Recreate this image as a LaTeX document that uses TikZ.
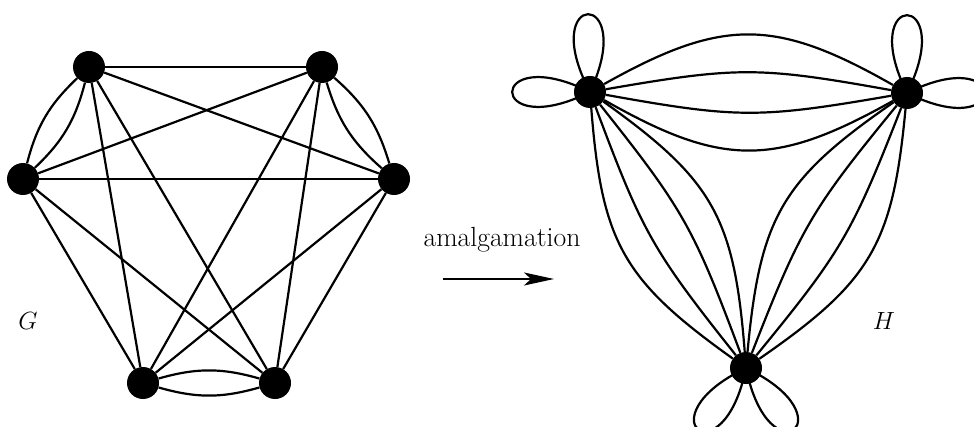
\documentclass[tikz,border=0pt]{standalone}
\usetikzlibrary{arrows.meta,backgrounds}
\begin{document}
\begin{tikzpicture}[x=1pt,y=1pt,
  vertex/.style={circle,fill=black,inner sep=0pt,minimum size=32pt},
  edge/.style={line width=2.2pt},
  big/.style={font=\fontsize{27.7}{33}\selectfont}]
\useasboundingbox (0,0) rectangle (974,426);
\clip (0,0) rectangle (974,426);

% ---- graph G ----
\node[vertex] (a) at (89,359) {};
\node[vertex] (b) at (322,359) {};
\node[vertex] (c) at (23,247) {};
\node[vertex] (d) at (394,247) {};
\node[vertex] (e) at (143,43) {};
\node[vertex] (f) at (275,43) {};

% ---- graph H ----
\node[vertex] (P) at (590,334) {};
\node[vertex] (Q) at (907,333) {};
\node[vertex] (R) at (746,58) {};

% ---- labels and arrow ----
\node[big,anchor=base] (G) at (28,97) {$G$};
\node[big,anchor=base] (H) at (884,97) {$H$};
\node[big,anchor=base] (amal) at (502,179) {amalgamation};
\coordinate (arrS) at (443,147);
\coordinate (arrE) at (554,147);
\draw[line width=2pt,-{Stealth[length=30pt,width=13pt,inset=7pt]}] (arrS) -- (arrE);

\begin{pgfonlayer}{background}
\begin{scope}[edge]
  % edges of G
  \draw (a) -- (b);
  \draw (a) to[bend left=16] (c);
  \draw (a) to[bend right=16] (c);
  \draw (a) -- (d);
  \draw (a) -- (e);
  \draw (a) -- (f);
  \draw (b) -- (c);
  \draw (b) to[bend left=16] (d);
  \draw (b) to[bend right=16] (d);
  \draw (b) -- (e);
  \draw (b) -- (f);
  \draw (c) -- (d);
  \draw (c) -- (e);
  \draw (c) -- (f);
  \draw (d) -- (e);
  \draw (d) -- (f);
  \draw (e) to[bend left=16] (f);
  \draw (e) to[bend right=16] (f);

  % parallel edges of H
  \draw (P) to[bend left=29.5,looseness=1.2] (Q);
  \draw (P) to[bend left=10,looseness=1.2] (Q);
  \draw (P) to[bend right=10,looseness=1.2] (Q);
  \draw (P) to[bend right=29.5,looseness=1.2] (Q);

  \draw (P) to[bend left=25,looseness=1.2] (R);
  \draw (P) to[bend left=9,looseness=1.2] (R);
  \draw (P) to[bend right=9,looseness=1.2] (R);
  \draw (P) to[bend right=25,looseness=1.2] (R);

  \draw (Q) to[bend left=25,looseness=1.2] (R);
  \draw (Q) to[bend left=9,looseness=1.2] (R);
  \draw (Q) to[bend right=9,looseness=1.2] (R);
  \draw (Q) to[bend right=25,looseness=1.2] (R);

  % loops of H
  \draw (P.center) .. controls +(65:116) and +(118:116) .. (P.center);
  \draw (P.center) .. controls +(153.5:116) and +(206.5:116) .. (P.center);
  \draw (Q.center) .. controls +(63.5:116) and +(116.5:116) .. (Q.center);
  \draw (Q.center) .. controls +(-26.5:116) and +(26.5:116) .. (Q.center);
  \draw (R.center) .. controls +(205.5:116) and +(258.5:116) .. (R.center);
  \draw (R.center) .. controls +(281.5:116) and +(334.5:116) .. (R.center);
\end{scope}
\end{pgfonlayer}
\end{tikzpicture}
\end{document}
